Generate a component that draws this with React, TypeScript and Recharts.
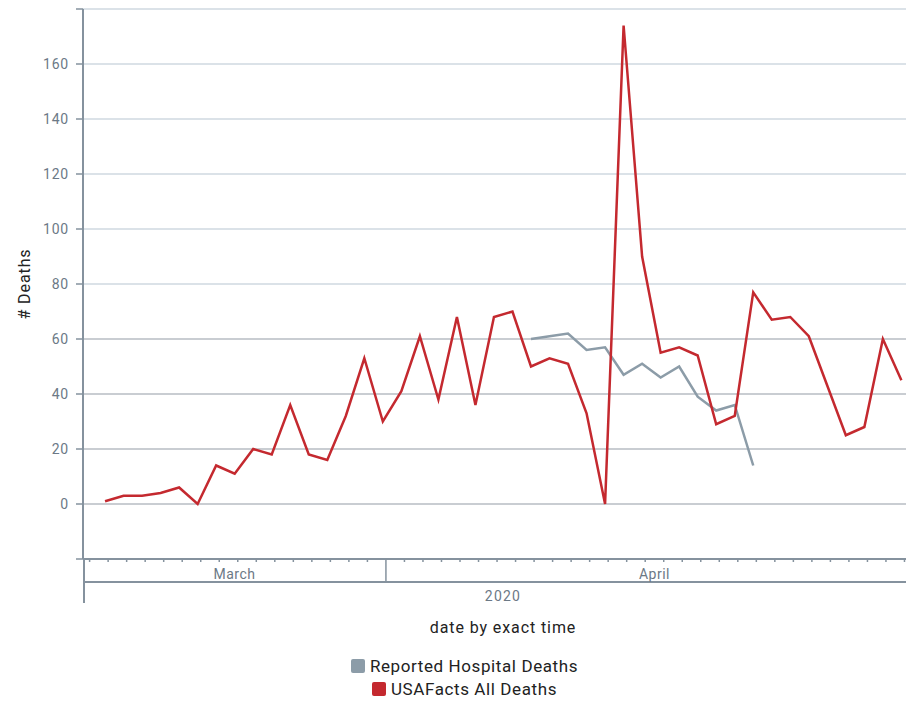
import React from 'react';
import { LineChart, Line, XAxis, YAxis, CartesianGrid, Legend } from 'recharts';

// ---------- data ----------
const DATES = [
  '2020-03-17', '2020-03-18', '2020-03-19', '2020-03-20', '2020-03-21', '2020-03-22', '2020-03-23',
  '2020-03-24', '2020-03-25', '2020-03-26', '2020-03-27', '2020-03-28', '2020-03-29', '2020-03-30',
  '2020-03-31', '2020-04-01', '2020-04-02', '2020-04-03', '2020-04-04', '2020-04-05', '2020-04-06',
  '2020-04-07', '2020-04-08', '2020-04-09', '2020-04-10', '2020-04-11', '2020-04-12', '2020-04-13',
  '2020-04-14', '2020-04-15', '2020-04-16', '2020-04-17', '2020-04-18', '2020-04-19', '2020-04-20',
  '2020-04-21', '2020-04-22', '2020-04-23', '2020-04-24', '2020-04-25', '2020-04-26', '2020-04-27',
  '2020-04-28', '2020-04-29',
];

const USAFACTS_DEATHS = [
  1, 3, 3, 4, 6, 0, 14,
  11, 20, 18, 36, 18, 16, 32,
  53, 30, 41, 61, 38, 68, 36,
  68, 70, 50, 53, 51, 33, 0,
  174, 90, 55, 57, 54, 29, 32,
  77, 67, 68, 61, 43, 25, 28,
  60, 45,
];

const HOSPITAL_DEATHS: (number | null)[] = [
  null, null, null, null, null, null, null,
  null, null, null, null, null, null, null,
  null, null, null, null, null, null, null,
  null, null, 60, 61, 62, 56, 57,
  47, 51, 46, 50, 39, 34, 36,
  14, null, null, null, null, null, null,
  null, null,
];

const SERIES_NAMES = { hosp: 'Reported Hospital Deaths', usa: 'USAFacts All Deaths' };

const Y_TICKS = [-20, 0, 20, 40, 60, 80, 100, 120, 140, 160, 180];
const Y_LABELED = [0, 20, 40, 60, 80, 100, 120, 140, 160];
const GRID_DARK = [-20, 0, 20, 40, 60];
const GRID_LIGHT = [80, 100, 120, 140, 160, 180];

// local (EDT) midnights used as the day ticks
const DAY_TICK_DATES = [
  '2020-03-16', '2020-03-17', '2020-03-18', '2020-03-19', '2020-03-20', '2020-03-21', '2020-03-22',
  '2020-03-23', '2020-03-24', '2020-03-25', '2020-03-26', '2020-03-27', '2020-03-28', '2020-03-29',
  '2020-03-30', '2020-03-31', '2020-04-01', '2020-04-02', '2020-04-03', '2020-04-04', '2020-04-05',
  '2020-04-06', '2020-04-07', '2020-04-08', '2020-04-09', '2020-04-10', '2020-04-11', '2020-04-12',
  '2020-04-13', '2020-04-14', '2020-04-15', '2020-04-16', '2020-04-17', '2020-04-18', '2020-04-19',
  '2020-04-20', '2020-04-21', '2020-04-22', '2020-04-23', '2020-04-24', '2020-04-25', '2020-04-26',
  '2020-04-27', '2020-04-28', '2020-04-29',
];
const MONTHS = [
  { label: 'March', start: '2020-03-01', end: '2020-04-01' },
  { label: 'April', start: '2020-04-01', end: '2020-05-01' },
];
const YEAR_LABEL = '2020';
const TZ = '-04:00';
const X_START_STR = '2020-03-15T15:26:00';
const X_END_STR = '2020-04-30T00:00:00';

// ---------- derived ----------
const localTime = (d: string) => Date.parse((d.length === 10 ? d + 'T00:00:00' : d) + TZ);
const X_DOMAIN = [localTime(X_START_STR), localTime(X_END_STR)];

const DATA = DATES.map((d, i) => ({
  t: Date.parse(d + 'T00:00:00Z'),
  usa: USAFACTS_DEATHS[i],
  hosp: HOSPITAL_DEATHS[i],
}));

const TICK_KIND = new Map<number, string>();
DAY_TICK_DATES.forEach((d) => TICK_KIND.set(localTime(d), 'day'));
MONTHS.forEach((m) => {
  const s = localTime(m.start);
  const e = localTime(m.end);
  if (s > X_DOMAIN[0] && s < X_DOMAIN[1]) TICK_KIND.set(s, 'month');
  const a = Math.max(s, X_DOMAIN[0]);
  const b = Math.min(e, X_DOMAIN[1]);
  if (b > a) TICK_KIND.set(Math.round((a + b) / 2), 'label:' + m.label);
});
TICK_KIND.set(X_DOMAIN[0], 'edge');
const MONTH_AXIS_TICKS = Array.from(TICK_KIND.keys()).sort((a, b) => a - b);
const YEAR_CENTER = Math.round((X_DOMAIN[0] + X_DOMAIN[1]) / 2);
TICK_KIND.set(YEAR_CENTER + 1, 'year');
const ALL_TICKS = Array.from(TICK_KIND.keys()).sort((a, b) => a - b);

// ---------- style ----------
const AXIS = '#85929e';
const TICK = '#6c7986';
const RED = '#c4292f';
const GRAY = '#8c9ca8';
const FONT = 'Roboto, "Noto Sans", sans-serif';

const MonthTick = (props: any) => {
  const { x, y, payload } = props;
  const kind = TICK_KIND.get(payload.value) || '';
  if (kind === 'day') {
    return <line x1={x} x2={x} y1={y} y2={y + 3} stroke={AXIS} strokeWidth={1.5} />;
  }
  if (kind === 'month') {
    return <line x1={x} x2={x} y1={y} y2={y + 22} stroke={AXIS} strokeWidth={1.5} />;
  }
  if (kind === 'edge') {
    return <line x1={x + 1} x2={x + 1} y1={y} y2={y + 44} stroke={AXIS} strokeWidth={2} />;
  }
  if (kind.startsWith('label:')) {
    return (
      <text x={x} y={y + 20} textAnchor="middle" fill={TICK} fontSize={14} fontFamily={FONT} letterSpacing={0.5}>
        {kind.slice(6)}
      </text>
    );
  }
  if (kind === 'year') {
    return (
      <text x={x} y={y + 42} textAnchor="middle" fill={TICK} fontSize={14} fontFamily={FONT} letterSpacing={1.2}>
        {YEAR_LABEL}
      </text>
    );
  }
  return null;
};

const renderLegend = (props: any) => {
  const items = props.payload || [];
  return (
    <div
      style={{
        height: 96,
        display: 'flex',
        flexDirection: 'column',
        justifyContent: 'flex-end',
        alignItems: 'center',
        paddingRight: 2,
        fontFamily: FONT,
      }}
    >
      {items.map((it: any) => (
        <div key={it.value} style={{ height: 23, display: 'flex', alignItems: 'center' }}>
          <span
            style={{
              display: 'inline-block',
              width: 14,
              height: 14,
              borderRadius: 2,
              background: it.color,
              marginRight: 5,
            }}
          />
          <span style={{ fontSize: 17, letterSpacing: 0.6, color: '#222' }}>{it.value}</span>
        </div>
      ))}
    </div>
  );
};

export default function App() {
  return (
    <div style={{ width: 906, height: 692, overflow: 'hidden' }}>
      <LineChart width={915} height={692} data={DATA} margin={{ top: 1, right: 0, bottom: 0, left: 0 }}>
        <CartesianGrid xAxisId="m" vertical={false} horizontalValues={GRID_DARK} stroke="#b7bdc3" strokeWidth={1.5} />
        <CartesianGrid xAxisId="m" vertical={false} horizontalValues={GRID_LIGHT} stroke="#cfd8e0" strokeWidth={1.5} />
        <XAxis
          xAxisId="m"
          type="number"
          dataKey="t"
          domain={X_DOMAIN}
          allowDataOverflow
          ticks={ALL_TICKS}
          interval={0}
          tick={<MonthTick />}
          tickLine={false}
          tickSize={0}
          tickMargin={0}
          height={23}
          axisLine={{ stroke: AXIS, strokeWidth: 2 }}
        />
        <XAxis
          xAxisId="y"
          type="number"
          dataKey="t"
          domain={X_DOMAIN}
          allowDataOverflow
          ticks={[]}
          tick={false}
          tickLine={false}
          tickSize={0}
          tickMargin={0}
          height={22}
          axisLine={{ stroke: AXIS, strokeWidth: 2 }}
          label={{
            value: 'date by exact time',
            position: 'bottom',
            offset: 18,
            fill: '#222',
            fontSize: 16,
            fontFamily: FONT,
            letterSpacing: 0.9,
          }}
        />
        <YAxis
          type="number"
          domain={[-20, 180]}
          ticks={Y_TICKS}
          interval={0}
          width={75}
          tickSize={7}
          tickMargin={7}
          axisLine={{ stroke: AXIS, strokeWidth: 2 }}
          tickLine={{ stroke: AXIS, strokeWidth: 1.5 }}
          tick={{ fill: TICK, fontSize: 14, fontFamily: FONT, letterSpacing: 0.8 }}
          tickFormatter={(v: number) => (Y_LABELED.includes(v) ? String(v) : '')}
          label={{
            value: '# Deaths',
            angle: -90,
            position: 'insideLeft',
            offset: 16,
            style: { textAnchor: 'middle' },
            fill: '#222',
            fontSize: 16,
            fontFamily: FONT,
            letterSpacing: 0.9,
          }}
        />
        <Legend verticalAlign="bottom" align="center" layout="horizontal" content={renderLegend} />
        <Line
          xAxisId="m"
          type="linear"
          dataKey="hosp"
          name={SERIES_NAMES.hosp}
          stroke={GRAY}
          strokeWidth={2.5}
          dot={false}
          activeDot={false}
          isAnimationActive={false}
        />
        <Line
          xAxisId="m"
          type="linear"
          dataKey="usa"
          name={SERIES_NAMES.usa}
          stroke={RED}
          strokeWidth={2.5}
          dot={false}
          activeDot={false}
          isAnimationActive={false}
        />
      </LineChart>
    </div>
  );
}
